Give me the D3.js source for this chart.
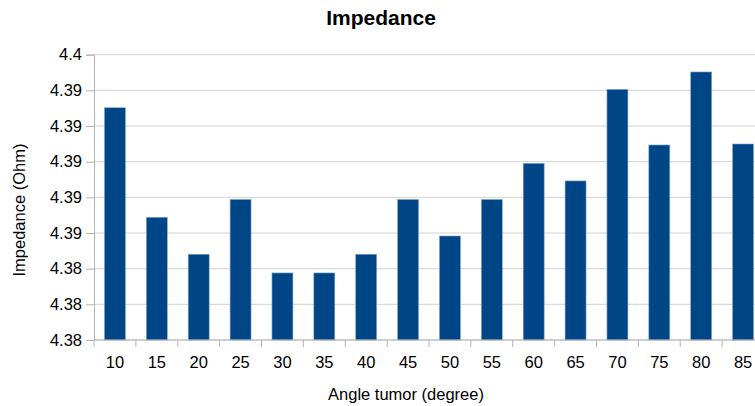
<!DOCTYPE html>
<html>
<head>
<meta charset="utf-8">
<script src="https://cdn.jsdelivr.net/npm/d3@7"></script>
<style>
  html, body { margin: 0; padding: 0; background: #fff; overflow: hidden; }
  svg { display: block; font-family: "Liberation Sans", Arial, sans-serif; }
</style>
</head>
<body>
<svg id="chart" width="755" height="406"></svg>
<script>
// Impedance measured at each tumour angle
const angles = ["10", "15", "20", "25", "30", "35", "40", "45", "50", "55", "60", "65", "70", "75", "80", "85"];
const impedance = [4.39628, 4.38860, 4.38601, 4.38985, 4.38470, 4.38470, 4.38601, 4.38985,
                   4.38729, 4.38985, 4.39238, 4.39115, 4.39757, 4.39367, 4.39879, 4.39374];
// Y gridline values and their printed labels (two decimals)
const yTickValues = [4.38, 4.3825, 4.385, 4.3875, 4.39, 4.3925, 4.395, 4.3975, 4.4];
const yTickLabels = ["4.38", "4.38", "4.38", "4.39", "4.39", "4.39", "4.39", "4.39", "4.4"];

const svg = d3.select("#chart");
const margin = { left: 94, top: 54.7, bottom: 66 };
const plotRight = 764;
const height = 406;

const x = d3.scaleBand()
  .domain(angles)
  .range([margin.left, plotRight])
  .paddingInner(0.5)
  .paddingOuter(0.25);

const y = d3.scaleLinear()
  .domain([4.38, 4.4])
  .range([height - margin.bottom, margin.top]);

// horizontal gridlines
svg.append("g")
  .selectAll("line")
  .data(yTickValues)
  .join("line")
  .attr("x1", margin.left)
  .attr("x2", plotRight)
  .attr("y1", d => y(d))
  .attr("y2", d => y(d))
  .attr("stroke", "#d2d2d2")
  .attr("stroke-width", 1);

// bars
svg.append("g")
  .selectAll("rect")
  .data(angles)
  .join("rect")
  .attr("x", d => x(d))
  .attr("width", x.bandwidth())
  .attr("y", (d, i) => y(impedance[i]))
  .attr("height", (d, i) => y(4.38) - y(impedance[i]))
  .attr("fill", "#004586")
  .attr("stroke", "#7fa4cc")
  .attr("stroke-width", 0.6);

// y axis
const yAxis = d3.axisLeft(y)
  .tickValues(yTickValues)
  .tickFormat((d, i) => yTickLabels[i])
  .tickSize(8)
  .tickPadding(4);
const gy = svg.append("g")
  .attr("transform", `translate(${margin.left},0)`)
  .call(yAxis);
gy.select(".domain").attr("stroke", "#b3b3b3");
gy.selectAll(".tick line").attr("stroke", "#b3b3b3");
gy.selectAll(".tick text")
  .attr("fill", "#000")
  .style("font-size", "16.5px")
  .style("font-family", "Liberation Sans, Arial, sans-serif");

// x axis with ticks on category boundaries
const gx = svg.append("g")
  .attr("transform", `translate(0,${y(4.38)})`);
gx.append("line")
  .attr("x1", margin.left).attr("x2", plotRight)
  .attr("y1", 0).attr("y2", 0)
  .attr("stroke", "#b3b3b3");
const step = x.step();
const boundaries = angles.map((d, i) => x(d) - (step - x.bandwidth()) / 2);
gx.selectAll("line.tk")
  .data(boundaries)
  .join("line")
  .attr("class", "tk")
  .attr("x1", d => d).attr("x2", d => d)
  .attr("y1", 0).attr("y2", 7)
  .attr("stroke", "#b3b3b3");
gx.selectAll("text")
  .data(angles)
  .join("text")
  .attr("x", d => x(d) + x.bandwidth() / 2)
  .attr("y", 28)
  .attr("text-anchor", "middle")
  .style("font-size", "16.5px")
  .attr("fill", "#000")
  .text(d => d);

// titles
svg.append("text")
  .attr("x", 381)
  .attr("y", 25)
  .attr("text-anchor", "middle")
  .style("font-size", "21px")
  .style("font-weight", "bold")
  .text("Impedance");

svg.append("text")
  .attr("x", 406)
  .attr("y", 400)
  .attr("text-anchor", "middle")
  .style("font-size", "16.5px")
  .text("Angle tumor (degree)");

svg.append("text")
  .attr("transform", "translate(25,210) rotate(-90)")
  .attr("text-anchor", "middle")
  .style("font-size", "16.5px")
  .text("Impedance (Ohm)");
</script>
</body>
</html>
